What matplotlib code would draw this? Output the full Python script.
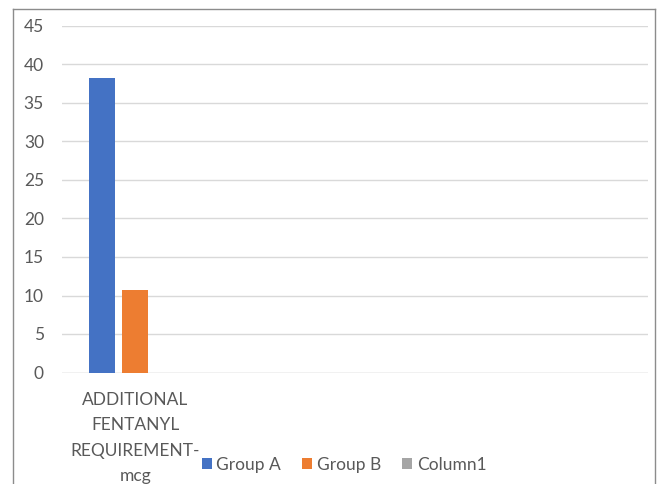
import matplotlib
matplotlib.use("Agg")
import matplotlib.pyplot as plt
import numpy as np
from matplotlib.patches import Patch
from matplotlib.lines import Line2D

categories = ["ADDITIONAL\nFENTANYL\nREQUIREMENT-\nmcg", "", "", ""]
series_names = ["Group A", "Group B", "Column1"]
group_a = [38.3, np.nan, np.nan, np.nan]
group_b = [10.7, np.nan, np.nan, np.nan]
column1 = [0, np.nan, np.nan, np.nan]
y_ticks = [0, 5, 10, 15, 20, 25, 30, 35, 40, 45]

colors = ["#4472C4", "#ED7D31", "#A5A5A5"]
text_color = "#595959"
plt.rcParams['font.family'] = ['Lato', 'DejaVu Sans']
fs = 12.5

fig = plt.figure(figsize=(6.59, 4.84), dpi=100)
ax = fig.add_axes([62/659, 1-372.5/484, (648-62)/659, (372.5-26)/484])

x = np.arange(len(categories))
w = 0.175
off = 0.226
for i, (vals, c) in enumerate(zip([group_a, group_b, column1], colors)):
    ax.bar(x + (i-1)*off, vals, width=w, color=c, zorder=3)

ax.set_xlim(-0.5, len(categories)-0.5)
ax.set_ylim(0, 45)
ax.set_yticks(y_ticks)
ax.set_xticks(x)
ax.set_xticklabels(categories, linespacing=1.72)
ax.grid(axis='y', color='#D9D9D9', linewidth=1, zorder=0)
for s in ax.spines.values():
    s.set_visible(False)
ax.axhline(0, color='#D9D9D9', linewidth=1, zorder=1)
ax.tick_params(axis='both', length=0, labelsize=fs, colors=text_color)
ax.tick_params(axis='y', pad=13)
ax.tick_params(axis='x', pad=14)

handles = [Patch(facecolor=c, edgecolor='none') for c in colors]
fig.legend(handles, series_names, loc='center', bbox_to_anchor=(0.522, 1-465/484),
           ncol=3, frameon=False, fontsize=fs, handlelength=0.6, handleheight=0.6,
           handletextpad=0.25, columnspacing=1.2, labelcolor=text_color)

# outer frame
fc = '#8c8c8c'
fig.add_artist(Line2D([13/659, 13/659], [0, 1-9/484], transform=fig.transFigure, color=fc, lw=1))
fig.add_artist(Line2D([655/659, 655/659], [0, 1-9/484], transform=fig.transFigure, color=fc, lw=1))
fig.add_artist(Line2D([13/659, 655/659], [1-9/484, 1-9/484], transform=fig.transFigure, color=fc, lw=1))

fig.savefig("out.png", dpi=100)
